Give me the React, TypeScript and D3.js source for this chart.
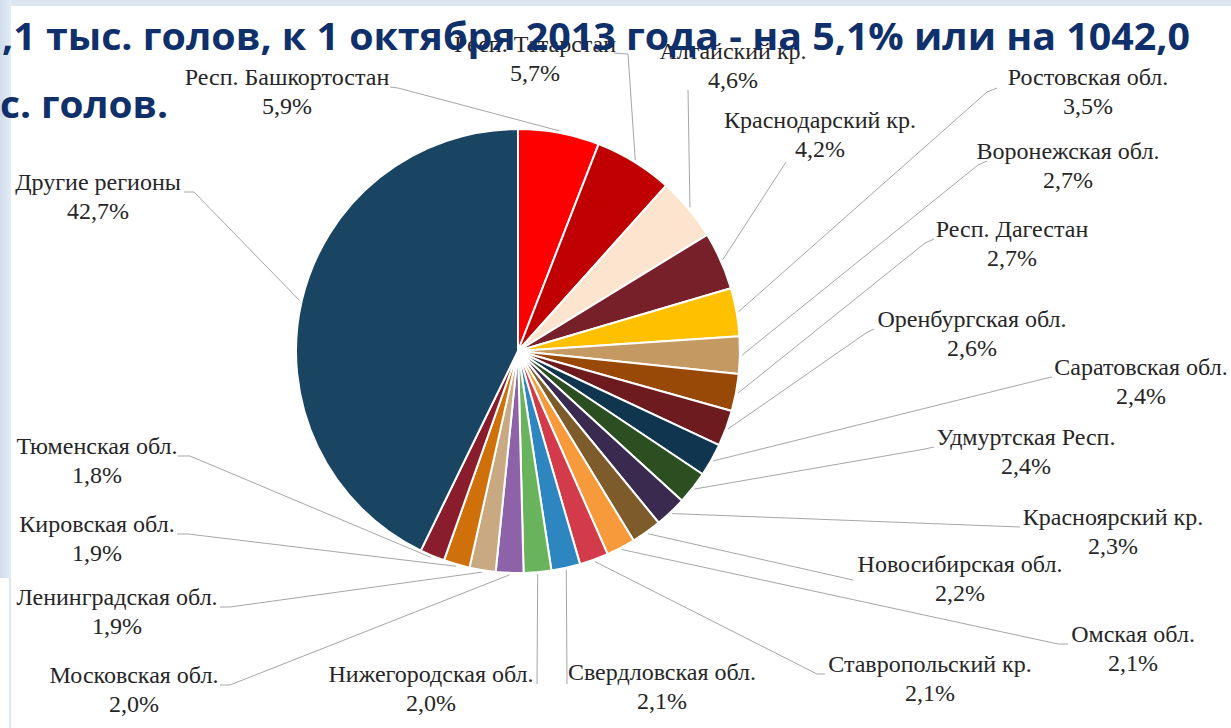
import React from "react";
import * as d3 from "d3";

// ---- data ----
const regions = [
  "Респ. Башкортостан",
  "Респ. Татарстан",
  "Алтайский кр.",
  "Краснодарский кр.",
  "Ростовская обл.",
  "Воронежская обл.",
  "Респ. Дагестан",
  "Оренбургская обл.",
  "Саратовская обл.",
  "Удмуртская Респ.",
  "Красноярский кр.",
  "Новосибирская обл.",
  "Омская обл.",
  "Ставропольский кр.",
  "Свердловская обл.",
  "Нижегородская обл.",
  "Московская обл.",
  "Ленинградская обл.",
  "Кировская обл.",
  "Тюменская обл.",
  "Другие регионы",
];
const shares = [5.9, 5.7, 4.6, 4.2, 3.5, 2.7, 2.7, 2.6, 2.4, 2.4, 2.3, 2.2, 2.1, 2.1, 2.1, 2.0, 2.0, 1.9, 1.9, 1.8, 42.7];
const sliceColors = [
  "#FF0000", "#C00000", "#FCE4CF", "#772029", "#FFC000", "#C49A62", "#984807",
  "#6E1B20", "#10354F", "#2C4F22", "#3A2A4F", "#7E5B2B", "#F79A3B", "#D33A4A",
  "#2E86C1", "#68B35B", "#8D62A9", "#C9A981", "#CF700B", "#8A1D2D", "#1A4562",
];
const titleLines = [",1 тыс. голов, к 1 октября 2013 года - на 5,1% или на 1042,0", "с. голов."];

// ---- layout (label placement) ----
// cx: label centre, by: baseline of name line, a: leader start, e: optional elbow
const labelLayout = [
  { cx: 287, by: 85, a: [390, 87], e: [398, 88] },
  { cx: 535, by: 52, a: [614, 53], e: [628, 54] },
  { cx: 733, by: 59, a: [688, 90], e: null },
  { cx: 820, by: 128, a: [786, 162], e: null },
  { cx: 1088, by: 85, a: [997, 88], e: [987, 92] },
  { cx: 1068, by: 159, a: [987, 161], e: [978, 165] },
  { cx: 1012, by: 237, a: [934, 239], e: [925, 243] },
  { cx: 972, by: 327, a: [874, 329], e: [866, 333] },
  { cx: 1141, by: 375, a: [1052, 377], e: [1043, 379] },
  { cx: 1026, by: 445, a: [934, 447], e: [925, 449] },
  { cx: 1113, by: 525, a: [1020, 527], e: null },
  { cx: 960, by: 572, a: [853, 580], e: null },
  { cx: 1133, by: 642, a: [1068, 644], e: [1058, 644] },
  { cx: 930, by: 672, a: [825, 674], e: [817, 674] },
  { cx: 662, by: 680, a: [567, 684], e: null },
  { cx: 431, by: 682, a: [537, 684], e: null },
  { cx: 134, by: 683, a: [220, 685], e: [230, 685] },
  { cx: 117, by: 605, a: [220, 607], e: [230, 607] },
  { cx: 97, by: 532, a: [177, 534], e: [188, 534] },
  { cx: 97, by: 454, a: [178, 456], e: [190, 456] },
  { cx: 98, by: 190, a: [184, 192], e: [194, 192] },
];

const W = 1231;
const H = 728;
const CX = 518;
const CY = 351;
const R = 222;

export default function App() {
  const pie = d3
    .pie<number>()
    .sort(null)
    .value((d) => d)
    .startAngle(0)
    .endAngle(2 * Math.PI);
  const arcs = pie(shares);
  const arc = d3.arc<d3.PieArcDatum<number>>().innerRadius(0).outerRadius(R);
  const edge = d3.arc<d3.PieArcDatum<number>>().innerRadius(R + 2).outerRadius(R + 2);
  const fmt = (v: number) => v.toFixed(1).replace(".", ",") + "%";

  return (
    <div style={{ position: "absolute", left: 0, top: 0 }}>
      <svg width={W} height={H} style={{ display: "block" }}>
        <defs>
          <linearGradient id="edgeL" x1="0" x2="1" y1="0" y2="0">
            <stop offset="0" stopColor="#CFDDEC" />
            <stop offset="1" stopColor="#E4ECF5" />
          </linearGradient>
        </defs>
        <rect x={0} y={0} width={W} height={H} fill="#FFFFFF" />
        <rect x={0} y={0} width={W} height={6} fill="#DCE6F1" />
        <rect x={0} y={0} width={11} height={578} fill="url(#edgeL)" />
        <rect x={9} y={578} width={2} height={H - 578} fill="#DCE6F1" />

        <g transform={`translate(${CX},${CY})`}>
          {arcs.map((d, i) => (
            <path key={i} d={arc(d) || ""} fill={sliceColors[i]} stroke="#FFFFFF" strokeWidth={2} strokeLinejoin="round" />
          ))}
        </g>

        <g fill="none" stroke="#A6A6A6" strokeWidth={1}>
          {arcs.map((d, i) => {
            const L = labelLayout[i];
            const c = edge.centroid(d);
            const pts: [number, number][] = [L.a as [number, number]];
            if (L.e) pts.push(L.e as [number, number]);
            pts.push([CX + c[0], CY + c[1]]);
            return <path key={i} d={d3.line()(pts) || ""} />;
          })}
        </g>

        <g style={{ fontFamily: '"Liberation Serif", "DejaVu Serif", serif' }} fontSize={24} fill="#262626" textAnchor="middle">
          {regions.map((name, i) => {
            const L = labelLayout[i];
            return (
              <g key={i}>
                <text x={L.cx} y={L.by}>{name}</text>
                <text x={L.cx} y={L.by + 29}>{fmt(shares[i])}</text>
              </g>
            );
          })}
        </g>

        <g style={{ fontFamily: '"Open Sans", "Noto Sans", sans-serif' }} fontWeight="bold" fontSize={37} fill="#10306B">
          <text x={2} y={50} textLength={1188} lengthAdjust="spacingAndGlyphs">{titleLines[0]}</text>
          <text x={0} y={118} textLength={168} lengthAdjust="spacingAndGlyphs">{titleLines[1]}</text>
        </g>
      </svg>
    </div>
  );
}
